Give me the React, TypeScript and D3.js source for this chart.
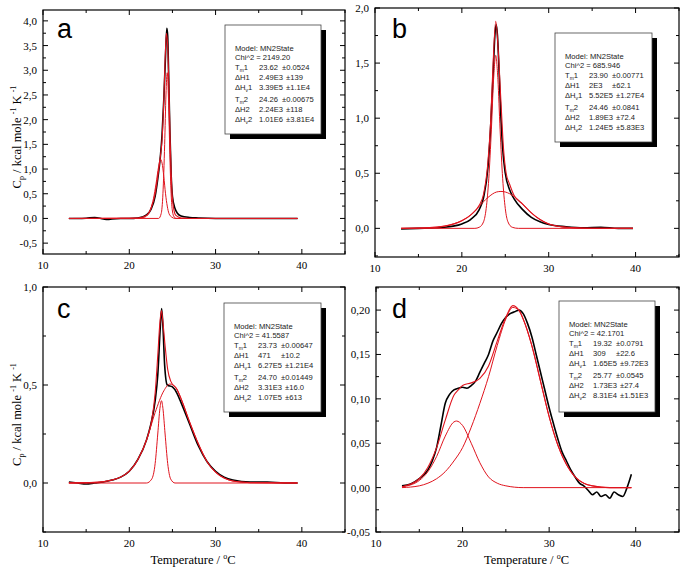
import React from "react";
import * as d3 from "d3";

type Pt = [number, number];

// ---------- Panel a ----------
const aExp: Pt[] = [[13,0],[14,0],[15,0.005],[16,0.02],[17,-0.01],[17.5,-0.02],[18,-0.01],[19,0],[20,0],[21,0.01],[21.5,0.03],[22,0.07],[22.5,0.18],[23,0.45],[23.3,0.8],[23.6,1.25],[23.8,1.7],[24.0,2.4],[24.2,3.3],[24.35,3.85],[24.45,3.7],[24.55,3.0],[24.7,1.8],[24.85,0.9],[25.0,0.45],[25.3,0.2],[25.6,0.1],[26,0.05],[27,0.02],[28,0.01],[30,0],[35,0],[39.5,0]];
const aComp1: Pt[] = [[13,0],[21,0],[21.5,0.01],[22,0.05],[22.5,0.2],[22.8,0.4],[23.1,0.7],[23.4,1.05],[23.6,1.2],[23.8,1.12],[24.0,0.85],[24.2,0.5],[24.4,0.25],[24.6,0.1],[24.9,0.03],[25.3,0],[39.5,0]];
const aComp2: Pt[] = [[13,0],[23.4,0],[23.7,0.1],[23.9,0.5],[24.1,1.5],[24.25,2.5],[24.4,2.95],[24.55,2.4],[24.7,1.3],[24.85,0.5],[25.0,0.15],[25.2,0.03],[25.5,0],[39.5,0]];
const aFit: Pt[] = [[13,0],[21,0.01],[22,0.06],[22.5,0.2],[23,0.5],[23.3,0.85],[23.6,1.25],[23.8,1.6],[24.0,2.4],[24.15,3.2],[24.3,3.75],[24.45,3.5],[24.6,2.6],[24.75,1.5],[24.9,0.7],[25.1,0.25],[25.4,0.06],[26,0.01],[27,0],[39.5,0]];
const aStats = ["Model: MN2State", "Chi^2 = 2149.20", "23.62|±0.0524", "2.49E3|±139", "3.39E5|±1.1E4", "24.26|±0.00675", "2.24E3|±118", "1.01E6|±3.81E4"];

// ---------- Panel b ----------
const bExp: Pt[] = [[13,-0.005],[15,0],[17,0.005],[18,0.01],[19,0.02],[20,0.04],[21,0.08],[22,0.17],[22.5,0.28],[23,0.55],[23.3,0.9],[23.6,1.4],[23.8,1.75],[23.95,1.85],[24.1,1.75],[24.3,1.4],[24.5,1.0],[24.7,0.72],[25,0.5],[25.5,0.35],[26,0.27],[27,0.17],[28,0.1],[29,0.06],[30,0.035],[32,0.015],[34,0.005],[36,0.01],[38,0],[39.7,0]];
const bComp1: Pt[] = [[13,0],[21.5,0],[22,0.01],[22.5,0.06],[22.8,0.18],[23.1,0.45],[23.4,0.9],[23.65,1.35],[23.9,1.57],[24.15,1.35],[24.4,0.9],[24.7,0.45],[25.0,0.18],[25.3,0.06],[25.8,0.01],[26.5,0],[39.7,0]];
const bComp2: Pt[] = [[13,0],[16,0.005],[18,0.02],[19,0.04],[20,0.07],[21,0.12],[22,0.2],[23,0.28],[24,0.33],[24.5,0.335],[25,0.33],[26,0.29],[27,0.22],[28,0.14],[29,0.08],[30,0.04],[31,0.02],[33,0.005],[35,0],[39.7,0]];
const bFit: Pt[] = [[13,0],[16,0.005],[18,0.02],[20,0.07],[21,0.12],[22,0.21],[22.5,0.31],[23,0.6],[23.3,0.95],[23.6,1.5],[23.9,1.88],[24.2,1.6],[24.5,1.15],[24.8,0.72],[25.1,0.5],[25.5,0.4],[26,0.3],[27,0.22],[28,0.14],[29,0.08],[30,0.04],[32,0.01],[35,0],[39.7,0]];
const bStats = ["Model: MN2State", "Chi^2 = 685.946", "23.90|±0.00771", "2E3|±62.1", "5.52E5|±1.27E4", "24.46|±0.0841", "1.89E3|±72.4", "1.24E5|±5.83E3"];

// ---------- Panel c ----------
const cExp: Pt[] = [[13,0.005],[14,0],[15,-0.005],[16,0],[17,0.005],[18,0.015],[19,0.03],[20,0.06],[21,0.12],[22,0.22],[22.5,0.3],[23,0.42],[23.3,0.55],[23.6,0.8],[23.75,0.89],[23.9,0.8],[24.1,0.6],[24.4,0.5],[25,0.49],[25.5,0.46],[26,0.41],[27,0.3],[28,0.19],[29,0.11],[30,0.06],[31,0.03],[32,0.015],[34,0.005],[36,0.005],[38,0],[39.5,0]];
const cComp1: Pt[] = [[13,0],[22,0],[22.6,0.02],[23,0.1],[23.3,0.25],[23.55,0.38],[23.73,0.42],[23.9,0.38],[24.15,0.25],[24.45,0.1],[24.8,0.02],[25.3,0],[39.5,0]];
const cComp2: Pt[] = [[13,0],[16,0.003],[18,0.015],[19,0.03],[20,0.06],[21,0.12],[22,0.22],[23,0.36],[24,0.47],[24.7,0.505],[25.5,0.48],[26,0.43],[27,0.31],[28,0.2],[29,0.11],[30,0.055],[31,0.025],[32,0.01],[34,0.002],[39.5,0]];
const cFit: Pt[] = [[13,0],[16,0.003],[18,0.015],[19,0.03],[20,0.06],[21,0.12],[22,0.22],[22.6,0.32],[23,0.46],[23.3,0.65],[23.55,0.82],[23.73,0.88],[23.9,0.82],[24.15,0.7],[24.45,0.58],[24.8,0.52],[25.5,0.48],[26,0.43],[27,0.31],[28,0.2],[29,0.11],[30,0.055],[31,0.025],[32,0.01],[34,0.002],[39.5,0]];
const cStats = ["Model: MN2State", "Chi^2 = 41.5587", "23.73|±0.00647", "471|±10.2", "6.27E5|±1.21E4", "24.70|±0.01449", "3.31E3|±16.0", "1.07E5|±613"];

// ---------- Panel d ----------
const dExp: Pt[] = [[13,0.002],[14,0.004],[15,0.01],[16,0.02],[16.5,0.03],[17,0.045],[17.5,0.07],[18,0.095],[18.5,0.105],[19,0.11],[19.5,0.112],[20,0.113],[20.5,0.112],[21,0.115],[21.5,0.12],[22,0.13],[22.5,0.14],[23,0.15],[23.5,0.165],[24,0.175],[24.5,0.185],[25,0.192],[25.5,0.196],[26,0.198],[26.5,0.2],[27,0.196],[27.5,0.185],[28,0.17],[28.5,0.15],[29,0.13],[29.5,0.11],[30,0.09],[30.5,0.072],[31,0.055],[31.5,0.04],[32,0.03],[32.5,0.02],[33,0.012],[33.5,0.005],[34,0.002],[34.5,-0.003],[35,-0.008],[35.5,-0.005],[36,-0.01],[36.5,-0.008],[37,-0.012],[37.5,-0.005],[38,-0.008],[38.5,-0.01],[39,0.0],[39.5,0.015]];
const dComp1: Pt[] = [[13,0.001],[14,0.003],[15,0.008],[16,0.018],[17,0.035],[18,0.058],[19,0.074],[19.3,0.075],[20,0.07],[21,0.05],[22,0.028],[23,0.012],[24,0.005],[25,0.002],[27,0],[39.5,0]];
const dComp2: Pt[] = [[13,0],[15,0.002],[16,0.005],[17,0.01],[18,0.018],[19,0.03],[20,0.045],[21,0.068],[22,0.095],[23,0.125],[24,0.16],[25,0.19],[25.8,0.203],[26.5,0.2],[27,0.19],[28,0.16],[29,0.12],[30,0.08],[31,0.048],[32,0.026],[33,0.012],[34,0.005],[35,0.002],[37,0],[39.5,0]];
const dFit: Pt[] = [[13,0.001],[14,0.004],[15,0.01],[16,0.023],[17,0.045],[18,0.076],[19,0.104],[19.5,0.11],[20,0.115],[21,0.118],[22,0.123],[23,0.137],[24,0.165],[25,0.192],[25.8,0.205],[26.5,0.2],[27,0.19],[28,0.16],[29,0.12],[30,0.08],[31,0.048],[32,0.026],[33,0.012],[34,0.005],[35,0.002],[37,0],[39.5,0]];
const dStats = ["Model: MN2State", "Chi^2 = 42.1701", "19.32|±0.0791", "309|±22.6", "1.65E5|±9.72E3", "25.77|±0.0545", "1.73E3|±27.4", "8.31E4|±1.51E3"];

const xMajor = [10, 20, 30, 40];
const xMinor = [15, 25, 35, 45];
const xDomain: [number, number] = [10, 45];

const RED = "#e0141e";
const SERIF = "'Liberation Serif', 'Times New Roman', serif";
const SANS = "'Liberation Sans', Arial, sans-serif";
const STAT_FS = 7.6;

interface PanelCfg {
  letter: string;
  left: number; right: number; top: number; bottom: number;
  yDomain: [number, number];
  yStep: number; yDec: number;
  exp: Pt[]; comps: Pt[][]; fit: Pt[];
  stats: string[];
  box: { x: number; y: number; w: number; h: number };
  letterPos: [number, number];
  yTitle: boolean;
}

const panels: PanelCfg[] = [
  { letter: "a", left: 43, right: 345, top: 10, bottom: 254, yDomain: [-0.72, 4.22], yStep: 0.5, yDec: 1,
    exp: aExp, comps: [aComp1, aComp2], fit: aFit, stats: aStats, box: { x: 225, y: 25, w: 96, h: 109 }, letterPos: [57, 38], yTitle: true },
  { letter: "b", left: 375, right: 679, top: 8, bottom: 257, yDomain: [-0.26, 2.0], yStep: 0.5, yDec: 1,
    exp: bExp, comps: [bComp1, bComp2], fit: bFit, stats: bStats, box: { x: 555, y: 33, w: 97, h: 109 }, letterPos: [392, 38], yTitle: false },
  { letter: "c", left: 43, right: 345, top: 287, bottom: 532, yDomain: [-0.25, 1.0], yStep: 0.5, yDec: 1,
    exp: cExp, comps: [cComp1, cComp2], fit: cFit, stats: cStats, box: { x: 224, y: 303, w: 97, h: 109 }, letterPos: [57, 318], yTitle: true },
  { letter: "d", left: 376, right: 679, top: 287, bottom: 532, yDomain: [-0.05, 0.226], yStep: 0.05, yDec: 2,
    exp: dExp, comps: [dComp1, dComp2], fit: dFit, stats: dStats, box: { x: 559, y: 301, w: 96, h: 111 }, letterPos: [392, 318], yTitle: false },
];

const rowLabels: { main: string; sub?: string; tail: string }[] = [
  { main: "T", sub: "m", tail: "1" },
  { main: "ΔH1", tail: "" },
  { main: "ΔH", sub: "v", tail: "1" },
  { main: "T", sub: "m", tail: "2" },
  { main: "ΔH2", tail: "" },
  { main: "ΔH", sub: "v", tail: "2" },
];

// rough Arial advance widths (em) to place the error column after the value
function textWidth(s: string, fs: number) {
  let w = 0;
  for (const ch of s) {
    if (ch === ".") w += 0.278;
    else if (ch === "E") w += 0.667;
    else w += 0.556;
  }
  return w * fs;
}

function Panel({ p }: { p: PanelCfg }) {
  const x = d3.scaleLinear().domain(xDomain).range([p.left, p.right]);
  const y = d3.scaleLinear().domain(p.yDomain).range([p.bottom, p.top]);
  const line = d3.line<Pt>().x(d => x(d[0])).y(d => y(d[1])).curve(d3.curveMonotoneX);
  const eps = 1e-9;
  const yMajor: number[] = [];
  const yMinor: number[] = [];
  const half = p.yStep / 2;
  const start = Math.ceil((p.yDomain[0] - eps) / half);
  for (let r = start; r * half <= p.yDomain[1] + eps; r++) {
    if (r % 2 === 0) yMajor.push(r * half); else yMinor.push(r * half);
  }
  const fmt = (v: number) => d3.format(`.${p.yDec}f`)(Math.abs(v) < eps ? 0 : v).replace(".", ",").replace("−", "-");
  const bx = p.box;
  const lx = bx.x + 10;
  const base = bx.y + 26;
  const rowY = [base, base + 9, base + 19, base + 29, base + 39, base + 51, base + 61, base + 71];
  return (
    <g>
      <path d={line(p.exp) || ""} fill="none" stroke="#000" strokeWidth={1.6} />
      {p.comps.map((c, i) => (
        <path key={i} d={line(c) || ""} fill="none" stroke={RED} strokeWidth={1} />
      ))}
      <path d={line(p.fit) || ""} fill="none" stroke={RED} strokeWidth={1.1} />
      <rect x={p.left} y={p.top} width={p.right - p.left} height={p.bottom - p.top} fill="none" stroke="#000" strokeWidth={1.2} />
      {xMajor.map(t => (
        <g key={"xm" + t}>
          <line x1={x(t)} x2={x(t)} y1={p.bottom} y2={p.bottom - 5} stroke="#000" />
          <line x1={x(t)} x2={x(t)} y1={p.top} y2={p.top + 5} stroke="#000" />
          <text x={x(t)} y={p.bottom + 15} textAnchor="middle" fontFamily={SERIF} fontSize={11}>{t}</text>
        </g>
      ))}
      {xMinor.map(t => (
        <g key={"xn" + t}>
          <line x1={x(t)} x2={x(t)} y1={p.bottom} y2={p.bottom - 3} stroke="#000" />
          <line x1={x(t)} x2={x(t)} y1={p.top} y2={p.top + 3} stroke="#000" />
        </g>
      ))}
      {yMajor.map(t => (
        <g key={"ym" + t}>
          <line x1={p.left} x2={p.left + 5} y1={y(t)} y2={y(t)} stroke="#000" />
          <line x1={p.right} x2={p.right - 5} y1={y(t)} y2={y(t)} stroke="#000" />
          <text x={p.left - 6} y={y(t) + 4} textAnchor="end" fontFamily={SERIF} fontSize={11}>{fmt(t)}</text>
        </g>
      ))}
      {yMinor.map(t => (
        <g key={"yn" + t}>
          <line x1={p.left} x2={p.left + 3} y1={y(t)} y2={y(t)} stroke="#000" />
          <line x1={p.right} x2={p.right - 3} y1={y(t)} y2={y(t)} stroke="#000" />
        </g>
      ))}
      <text x={p.letterPos[0]} y={p.letterPos[1]} fontFamily={SANS} fontSize={27}>{p.letter}</text>
      <rect x={bx.x + 5} y={bx.y + 5} width={bx.w} height={bx.h} fill="#000" />
      <rect x={bx.x} y={bx.y} width={bx.w} height={bx.h} fill="#fff" stroke="#444" strokeWidth={0.8} />
      <g fontFamily={SANS} fontSize={STAT_FS} fill="#222">
        <text x={lx} y={rowY[0]}>{p.stats[0]}</text>
        <text x={lx} y={rowY[1]}>{p.stats[1]}</text>
        {rowLabels.map((r, i) => {
          const [val, err] = p.stats[i + 2].split("|");
          const vx = lx + 24;
          const ex = Math.max(lx + 47, vx + textWidth(val, STAT_FS) + 3);
          return (
            <g key={i}>
              <text x={lx} y={rowY[i + 2]}>
                {r.main}
                {r.sub ? <tspan fontSize={5} dy={2}>{r.sub}</tspan> : null}
                {r.sub ? <tspan dy={-2}>{r.tail}</tspan> : null}
              </text>
              <text x={vx} y={rowY[i + 2]}>{val}</text>
              <text x={ex} y={rowY[i + 2]}>{err}</text>
            </g>
          );
        })}
      </g>
      {p.yTitle ? (
        <text transform={`translate(21,${(p.top + p.bottom) / 2 + 5}) rotate(-90)`} textAnchor="middle" fontFamily={SERIF} fontSize={12.5}>
          C<tspan fontSize={8} dy={3}>p</tspan><tspan dy={-3}>  / kcal mole </tspan><tspan fontSize={8} dy={-5}>-1</tspan><tspan dy={5}> K </tspan><tspan fontSize={8} dy={-5}>-1</tspan>
        </text>
      ) : null}
      {p.bottom > 400 ? (
        <text x={(p.left + p.right) / 2 - 1} y={564} textAnchor="middle" fontFamily={SERIF} fontSize={12.5}>
          Temperature  / <tspan fontSize={8} dy={-5}>o</tspan><tspan dy={5}>C</tspan>
        </text>
      ) : null}
    </g>
  );
}

export default function App() {
  return (
    <svg width={683} height={568} style={{ position: "absolute", left: 0, top: 0, background: "#fff" }}>
      <rect x={0} y={0} width={683} height={568} fill="#fff" />
      {panels.map(p => <Panel key={p.letter} p={p} />)}
    </svg>
  );
}
